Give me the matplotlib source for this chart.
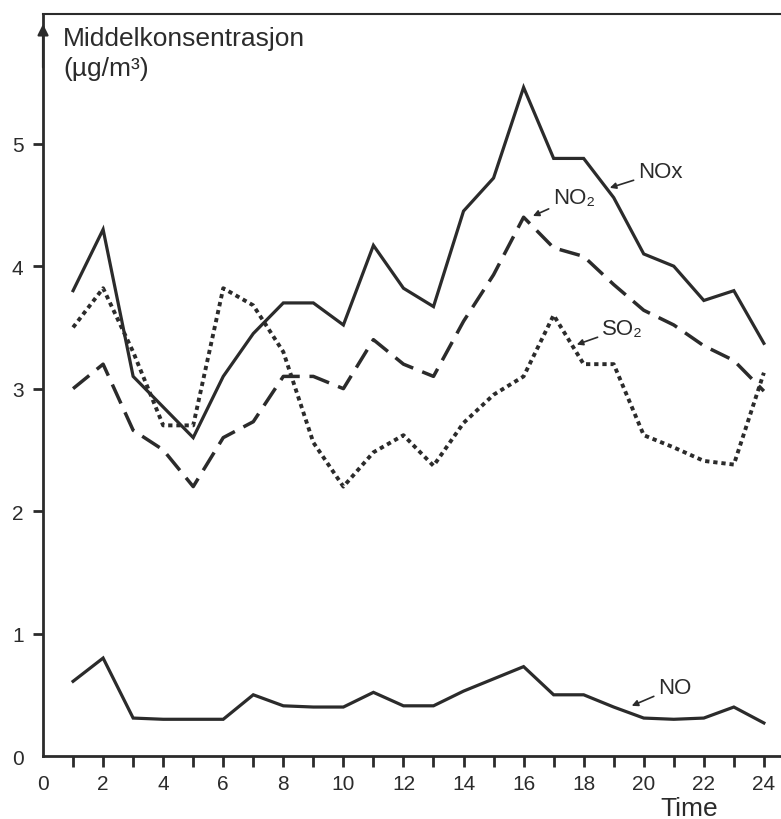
#!/usr/bin/env python3
"""
Middelkonsentrasjon av NOx, NO2, SO2 og NO gjennom døgnet (time for time)
"""

import matplotlib
matplotlib.use("Agg")
import matplotlib.pyplot as plt

# data lest av figuren
hours = list(range(1, 25))
nox = [3.8, 4.3, 3.1, 2.85, 2.6, 3.1, 3.45, 3.7, 3.7, 3.52, 4.17, 3.82,
       3.67, 4.45, 4.72, 5.46, 4.88, 4.88, 4.56, 4.1, 4.0, 3.72, 3.8, 3.37]
no2 = [3.0, 3.2, 2.66, 2.5, 2.2, 2.6, 2.73, 3.1, 3.1, 3.0, 3.4, 3.2,
       3.1, 3.55, 3.93, 4.4, 4.15, 4.08, 3.85, 3.64, 3.52, 3.35, 3.23, 2.98]
so2 = [3.5, 3.82, 3.3, 2.7, 2.7, 3.82, 3.68, 3.3, 2.56, 2.2, 2.48, 2.62,
       2.37, 2.72, 2.95, 3.1, 3.6, 3.2, 3.2, 2.62, 2.52, 2.41, 2.38, 3.13]
no = [0.61, 0.8, 0.31, 0.3, 0.3, 0.3, 0.5, 0.41, 0.4, 0.4, 0.52, 0.41,
      0.41, 0.53, 0.63, 0.73, 0.5, 0.5, 0.4, 0.31, 0.3, 0.31, 0.4, 0.27]

x_labels = [str(h) for h in range(0, 25, 2)]
y_labels = [str(v) for v in range(0, 6)]

INK = "#2b2b2b"
FONT = ["Liberation Sans", "DejaVu Sans"]


def main():
    plt.rcParams['font.family'] = FONT

    fig = plt.figure(figsize=(7.81, 8.2), dpi=100)
    fig.patch.set_facecolor('white')
    ax = fig.add_axes([0.0551, 0.0768, 0.9449, 0.905])

    # kurver
    ax.plot(hours, nox, color=INK, linewidth=2.3, solid_joinstyle='miter')
    ax.plot(hours, no2, color=INK, linewidth=2.5, linestyle=(0, (6.0, 2.8)))
    ax.plot(hours, so2, color=INK, linewidth=2.8, linestyle=(0, (1.1, 1.0)))
    ax.plot(hours, no, color=INK, linewidth=2.3, solid_joinstyle='miter')

    # akser
    ax.set_xlim(0, 24.57)
    ax.set_ylim(0, 6.06)
    ax.spines['right'].set_visible(False)
    for side in ['left', 'bottom', 'top']:
        ax.spines[side].set_color(INK)
        ax.spines[side].set_linewidth(2.0)
    ax.spines['top'].set_linewidth(1.5)

    ax.set_xticks(range(0, 25, 2))
    ax.set_xticklabels(x_labels)
    ax.set_xticks(range(1, 25, 2), minor=True)
    ax.set_yticks(range(0, 6))
    ax.set_yticklabels(y_labels)
    ax.tick_params(axis='both', which='both', direction='out', colors=INK,
                   labelsize=15, width=2.0)
    ax.tick_params(axis='x', which='both', length=8, pad=5)
    ax.tick_params(axis='y', length=7, pad=7)
    ax.xaxis.get_major_ticks()[0].tick1line.set_visible(False)
    ax.yaxis.get_major_ticks()[0].tick1line.set_visible(False)

    # pil på y-aksen
    ax.annotate('', xy=(0, 6.0), xytext=(0, 5.6), annotation_clip=False,
                arrowprops=dict(arrowstyle='-|>', color=INK, lw=1.6,
                                mutation_scale=16))

    # etiketter med piler
    arrow = dict(arrowstyle='-|>', color=INK, lw=1.2, mutation_scale=9,
                 shrinkA=1, shrinkB=0)
    ax.annotate('NOx', xy=(18.87, 4.64), xytext=(19.8, 4.77), fontsize=16,
                color=INK, ha='left', va='center', arrowprops=arrow)
    ax.annotate('NO₂', xy=(16.31, 4.41), xytext=(16.97, 4.56), fontsize=16,
                color=INK, ha='left', va='center', arrowprops=arrow)
    ax.annotate('SO₂', xy=(17.77, 3.36), xytext=(18.6, 3.49), fontsize=16,
                color=INK, ha='left', va='center', arrowprops=arrow)
    ax.annotate('NO', xy=(19.6, 0.41), xytext=(20.47, 0.56), fontsize=16,
                color=INK, ha='left', va='center', arrowprops=arrow)

    # aksetitler
    fig.text(63 / 781, 1 - 39 / 820, 'Middelkonsentrasjon', fontsize=19,
             color=INK, ha='left', va='center')
    fig.text(63 / 781, 1 - 69 / 820, '(µg/m³)', fontsize=19,
             color=INK, ha='left', va='center')
    fig.text(660 / 781, 1 - 809 / 820, 'Time', fontsize=19,
             color=INK, ha='left', va='center')

    fig.savefig('out.png', dpi=100, facecolor='white')
    plt.close(fig)


if __name__ == "__main__":
    main()
